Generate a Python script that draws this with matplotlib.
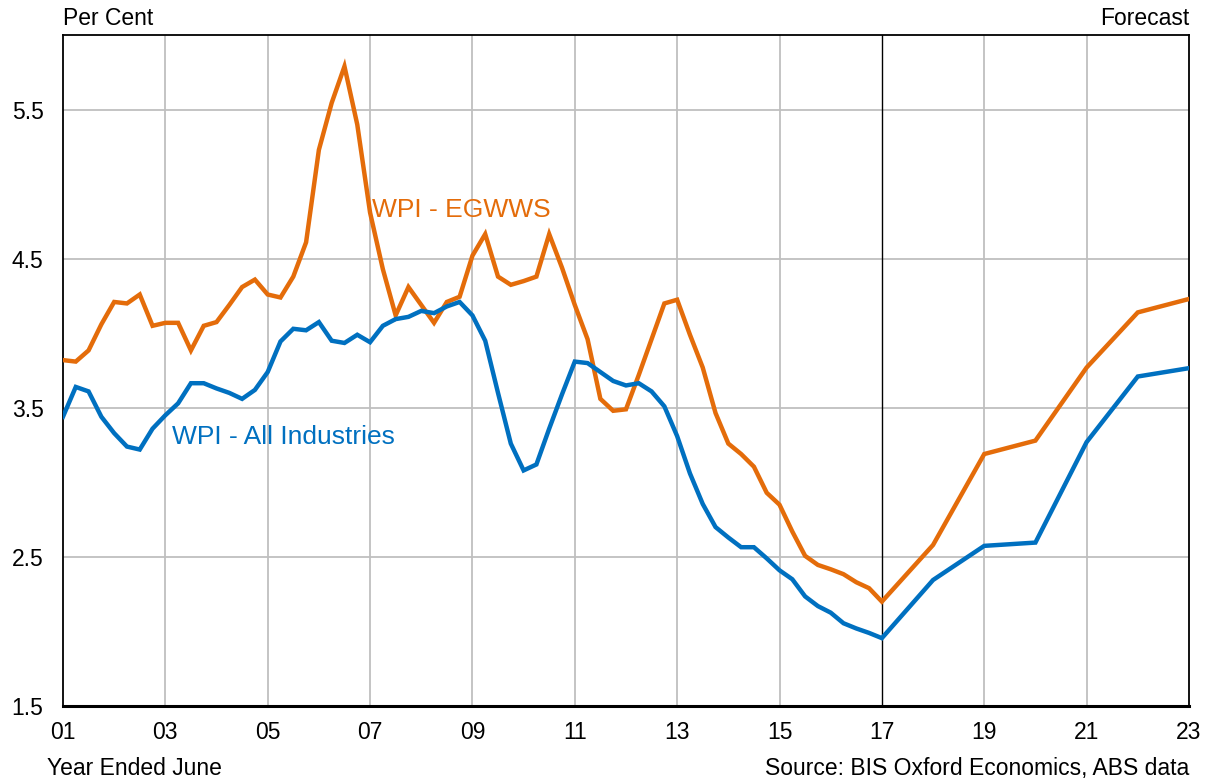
import numpy as np
import matplotlib
matplotlib.use("Agg")
import matplotlib.pyplot as plt

plt.rcParams['font.family'] = ['Liberation Sans', 'DejaVu Sans']

# Quarterly history (year ended June), 2001 to 2017
hist_years = np.arange(2001, 2017.01, 0.25)
egwws_hist = [3.82, 3.81, 3.885, 4.06, 4.21, 4.20, 4.26, 4.05,
              4.07, 4.07, 3.885, 4.05, 4.075, 4.19, 4.31, 4.36,
              4.26, 4.24, 4.38, 4.61, 5.23, 5.545, 5.79, 5.40,
              4.81, 4.43, 4.12, 4.31, 4.19, 4.07, 4.21, 4.245,
              4.52, 4.665, 4.38, 4.325, 4.35, 4.38, 4.665, 4.44,
              4.19, 3.96, 3.56, 3.48, 3.49, 3.72, 3.96, 4.20,
              4.225, 3.99, 3.77, 3.465, 3.26, 3.19, 3.105, 2.93,
              2.85, 2.67, 2.507, 2.446, 2.417, 2.384, 2.33, 2.29,
              2.20]
allind_hist = [3.44, 3.64, 3.61, 3.44, 3.33, 3.24, 3.22, 3.36,
               3.45, 3.53, 3.665, 3.665, 3.63, 3.60, 3.56, 3.62,
               3.74, 3.945, 4.03, 4.02, 4.075, 3.95, 3.935, 3.99,
               3.94, 4.05, 4.095, 4.11, 4.15, 4.135, 4.18, 4.21,
               4.12, 3.95, 3.60, 3.26, 3.08, 3.12, 3.36, 3.59,
               3.81, 3.80, 3.74, 3.68, 3.65, 3.665, 3.61, 3.51,
               3.31, 3.06, 2.855, 2.70, 2.63, 2.565, 2.565, 2.49,
               2.41, 2.35, 2.235, 2.17, 2.126, 2.055, 2.02, 1.99,
               1.955]

# Annual forecasts
fc_years = [2018, 2019, 2020, 2021, 2022, 2023]
egwws_fc = [2.58, 3.19, 3.28, 3.77, 4.14, 4.23]
allind_fc = [2.345, 2.574, 2.596, 3.27, 3.71, 3.766]

xtick_years = list(range(2001, 2024, 2))
xtick_labels = ['01', '03', '05', '07', '09', '11', '13', '15', '17', '19', '21', '23']
ytick_vals = [1.5, 2.5, 3.5, 4.5, 5.5]
ytick_labels = ['1.5', '2.5', '3.5', '4.5', '5.5']

orange = '#E46C0A'
blue = '#0070C0'

x_orange = list(hist_years) + fc_years
y_orange = egwws_hist + egwws_fc
x_blue = list(hist_years) + fc_years
y_blue = allind_hist + allind_fc

fs = 16.5

fig = plt.figure(figsize=(12.11, 7.80), dpi=100)
ax = fig.add_axes([0.052, 0.0949, 0.9298, 0.8601])

ax.set_xlim(2001, 2023)
ax.set_ylim(1.5, 6.0)

ax.set_xticks(xtick_years)
ax.set_xticklabels(xtick_labels, fontsize=fs)
ax.set_yticks(ytick_vals)
ax.set_yticklabels(ytick_labels, fontsize=fs)
ax.tick_params(axis='both', length=0)
ax.tick_params(axis='y', pad=14)
ax.tick_params(axis='x', pad=11)

# grid
for yv in ytick_vals[1:]:
    ax.axhline(yv, color='#BFBFBF', lw=1.3, zorder=1)
for xv in xtick_years[1:-1]:
    if xv == 2017:
        ax.axvline(xv, color='black', lw=1.0, zorder=1)
    else:
        ax.axvline(xv, color='#BFBFBF', lw=1.3, zorder=1)

ax.plot(x_orange, y_orange, color=orange, lw=3.2, solid_joinstyle='miter', zorder=3)
ax.plot(x_blue, y_blue, color=blue, lw=3.2, solid_joinstyle='miter', zorder=3)

for s in ['left', 'right', 'top']:
    ax.spines[s].set_linewidth(1.3)
    ax.spines[s].set_color('black')
ax.spines['bottom'].set_linewidth(2.2)

ax.text(2007.03, 4.83, 'WPI - EGWWS', color=orange, fontsize=19, va='center', ha='left')
ax.text(2003.13, 3.305, 'WPI - All Industries', color=blue, fontsize=19, va='center', ha='left')

fig.text(0.052, 0.962, 'Per Cent', fontsize=fs, ha='left', va='bottom')
fig.text(0.9818, 0.962, 'Forecast', fontsize=fs, ha='right', va='bottom')
fig.text(0.039, 0.0, 'Year Ended June', fontsize=fs, ha='left', va='bottom')
fig.text(0.9818, 0.0, 'Source: BIS Oxford Economics, ABS data', fontsize=fs, ha='right', va='bottom')

fig.savefig('out.png', dpi=100)
